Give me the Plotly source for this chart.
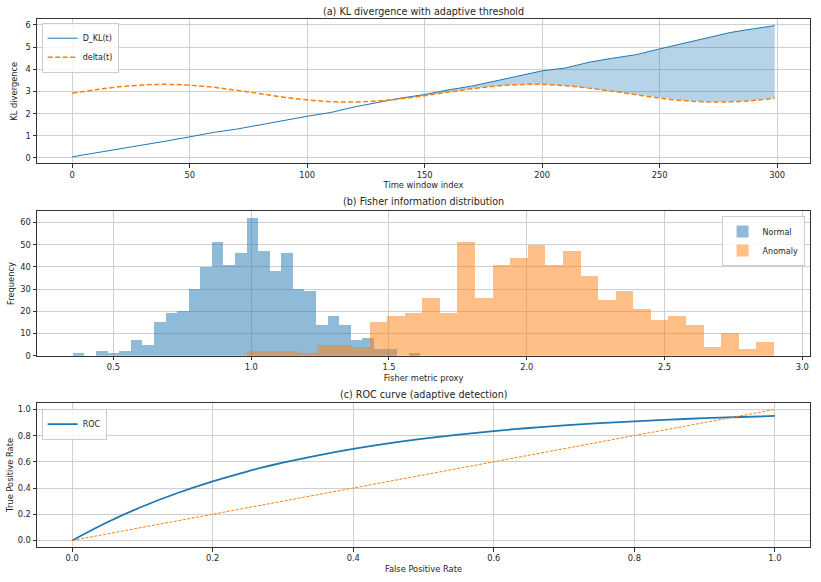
import numpy as np
import plotly.graph_objects as go
from plotly.subplots import make_subplots

# ---------------- data ----------------
# (a) KL divergence vs adaptive threshold
t_idx = [0, 10, 20, 30, 40, 50, 60, 70, 80, 90, 100, 110, 120, 130, 140, 150,
         160, 170, 180, 190, 200, 210, 220, 230, 240, 250, 260, 270, 280, 290, 299]
d_kl = [0.05, 0.22, 0.40, 0.57, 0.76, 0.95, 1.15, 1.30, 1.50, 1.68, 1.88, 2.05,
        2.30, 2.50, 2.70, 2.86, 3.07, 3.24, 3.46, 3.70, 3.93, 4.06, 4.32, 4.50,
        4.66, 4.92, 5.17, 5.40, 5.66, 5.83, 5.97]
delta = [2.92, 3.08, 3.21, 3.29, 3.32, 3.28, 3.19, 3.05, 2.90, 2.74, 2.62, 2.54,
         2.52, 2.57, 2.67, 2.81, 2.97, 3.12, 3.24, 3.31, 3.32, 3.26, 3.15, 3.01,
         2.85, 2.70, 2.59, 2.53, 2.53, 2.59, 2.70]

# (b) Fisher information histograms (30 bins each)
normal_range = (0.3527, 1.6136)
normal_counts = [1, 0, 2, 1, 2, 7, 5, 15, 19, 20, 30, 40, 51, 41, 46, 62, 47, 38,
                 46, 30, 29, 14, 18, 14, 7, 8, 3, 3, 0, 1]
anomaly_range = (0.983, 2.897)
anomaly_counts = [2, 2, 2, 1, 5, 5, 4, 15, 18, 19, 26, 19, 51, 26, 41, 44, 50, 41,
                  47, 36, 25, 29, 21, 16, 18, 14, 4, 10, 3, 6]

# (c) ROC curve
fpr = [0.0, 0.05, 0.10, 0.15, 0.20, 0.25, 0.30, 0.35, 0.40, 0.45, 0.50, 0.55,
       0.60, 0.65, 0.70, 0.75, 0.80, 0.85, 0.90, 0.95, 1.0]
tpr = [0.0, 0.139, 0.259, 0.362, 0.451, 0.528, 0.593, 0.650, 0.699, 0.741, 0.777,
       0.808, 0.835, 0.858, 0.878, 0.895, 0.909, 0.922, 0.933, 0.942, 0.950]
chance = [0.0, 1.0]

BLUE = "#1f77b4"
ORANGE = "#ff7f0e"
FONT = "DejaVu Sans"
TXT = "#262626"

fig = make_subplots(rows=3, cols=1)

# ---- (a)
upper = np.maximum(np.array(d_kl), np.array(delta))
fig.add_trace(go.Scatter(x=t_idx, y=delta, mode="lines", line=dict(width=0),
                         showlegend=False, hoverinfo="skip"), row=1, col=1)
fig.add_trace(go.Scatter(x=t_idx, y=upper, mode="lines", line=dict(width=0),
                         fill="tonexty", fillcolor="rgba(31,119,180,0.32)",
                         showlegend=False, hoverinfo="skip"), row=1, col=1)
fig.add_trace(go.Scatter(x=t_idx, y=d_kl, mode="lines", name="D_KL(t)",
                         line=dict(color=BLUE, width=1), legend="legend"), row=1, col=1)
fig.add_trace(go.Scatter(x=t_idx, y=delta, mode="lines", name="delta(t)",
                         line=dict(color=ORANGE, width=1.5, dash="5px,2.5px", shape="spline"),
                         legend="legend"), row=1, col=1)

# ---- (b)
def bins(rng, counts):
    edges = np.linspace(rng[0], rng[1], len(counts) + 1)
    return (edges[:-1] + edges[1:]) / 2, edges[1] - edges[0]

nc, nw = bins(normal_range, normal_counts)
ac, aw = bins(anomaly_range, anomaly_counts)
fig.add_trace(go.Bar(x=nc, y=normal_counts, width=nw, name="Normal",
                     marker=dict(color="rgba(31,119,180,0.5)", line=dict(width=0)),
                     legend="legend2"), row=2, col=1)
fig.add_trace(go.Bar(x=ac, y=anomaly_counts, width=aw, name="Anomaly",
                     marker=dict(color="rgba(255,127,14,0.5)", line=dict(width=0)),
                     legend="legend2"), row=2, col=1)

# ---- (c)
fig.add_trace(go.Scatter(x=fpr, y=tpr, mode="lines", name="ROC",
                         line=dict(color=BLUE, width=1.8, shape="spline"),
                         legend="legend3"), row=3, col=1)
fig.add_trace(go.Scatter(x=chance, y=chance, mode="lines", showlegend=False,
                         line=dict(color=ORANGE, width=1, dash="3px,1.5px")), row=3, col=1)

axis_common = dict(showgrid=True, gridcolor="#cfcfcf", gridwidth=1,
                   showline=True, linecolor="#333333", linewidth=1, mirror=True,
                   ticks="outside", ticklen=3.5, tickcolor="#333333",
                   tickfont=dict(size=8.3, color=TXT, family=FONT), zeroline=False)

fig.update_xaxes(**axis_common)
fig.update_yaxes(**axis_common)

leg_common = dict(bgcolor="rgba(255,255,255,0.85)", bordercolor="#cccccc", borderwidth=1,
                  font=dict(size=8), itemwidth=30, traceorder="normal", tracegroupgap=0)

fig.update_layout(
    width=821, height=582, autosize=False,
    margin=dict(l=37, r=10, t=19, b=32),
    paper_bgcolor="white", plot_bgcolor="white",
    font=dict(family=FONT, size=8, color=TXT),
    barmode="overlay", bargap=0,
    xaxis=dict(domain=[0, 1], range=[-15, 314], tickvals=[0, 50, 100, 150, 200, 250, 300],
               title=dict(text="Time window index", standoff=3, font=dict(size=8.3))),
    yaxis=dict(domain=[0.7264, 1.0], range=[-0.25, 6.27], tickvals=[0, 1, 2, 3, 4, 5, 6],
               title=dict(text="KL divergence", standoff=6, font=dict(size=8.3))),
    xaxis2=dict(domain=[0, 1], range=[0.2225, 3.028], tickvals=[0.5, 1.0, 1.5, 2.0, 2.5, 3.0],
                ticktext=["0.5", "1.0", "1.5", "2.0", "2.5", "3.0"],
                title=dict(text="Fisher metric proxy", standoff=3, font=dict(size=8.3))),
    yaxis2=dict(domain=[0.3621, 0.636], range=[0, 65.1], tickvals=[0, 10, 20, 30, 40, 50, 60],
                title=dict(text="Frequency", standoff=4, font=dict(size=8.3))),
    xaxis3=dict(domain=[0, 1], range=[-0.05, 1.05], tickvals=[0, 0.2, 0.4, 0.6, 0.8, 1.0],
                ticktext=["0.0", "0.2", "0.4", "0.6", "0.8", "1.0"],
                title=dict(text="False Positive Rate", standoff=3, font=dict(size=8.3))),
    yaxis3=dict(domain=[0, 0.273], range=[-0.05, 1.05], tickvals=[0, 0.2, 0.4, 0.6, 0.8, 1.0],
                ticktext=["0.0", "0.2", "0.4", "0.6", "0.8", "1.0"],
                title=dict(text="True Positive Rate", standoff=2, font=dict(size=8.3))),
    legend=dict(x=0.006, y=0.993, xanchor="left", yanchor="top", **leg_common),
    legend2=dict(x=0.993, y=0.627, xanchor="right", yanchor="top", **leg_common),
    legend3=dict(x=0.006, y=0.262, xanchor="left", yanchor="top", **leg_common),
    annotations=[
        dict(text="(a) KL divergence with adaptive threshold", x=0.5, y=1.015,
             xref="paper", yref="paper", showarrow=False, font=dict(size=9.6, color=TXT),
             xanchor="center", yanchor="middle"),
        dict(text="(b) Fisher information distribution", x=0.5, y=0.6535,
             xref="paper", yref="paper", showarrow=False, font=dict(size=9.6, color=TXT),
             xanchor="center", yanchor="middle"),
        dict(text="(c) ROC curve (adaptive detection)", x=0.5, y=0.288,
             xref="paper", yref="paper", showarrow=False, font=dict(size=9.6, color=TXT),
             xanchor="center", yanchor="middle"),
    ],
)

fig.write_html("out.html")
